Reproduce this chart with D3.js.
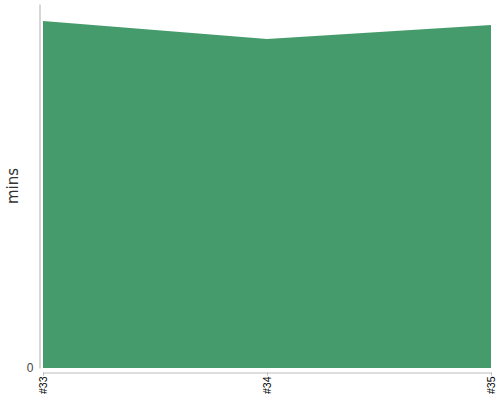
<!DOCTYPE html>
<html>
<head>
<meta charset="utf-8">
<script src="https://cdn.jsdelivr.net/npm/d3@7"></script>
<style>
  body { margin: 0; background: #fff; }
  .axis path, .axis line { stroke: #bbb; }
</style>
</head>
<body>
<script>
// builds and their duration
const builds = ["#33", "#34", "#35"];
const minutes = [95.3, 90.4, 94.2];
const yTicks = [0];

const width = 500, height = 400;
const margin = {top: 4, right: 9, bottom: 32, left: 43};

const svg = d3.select("body").append("svg")
    .attr("width", width)
    .attr("height", height)
    .style("font-family", "'DejaVu Sans', sans-serif");

const x = d3.scalePoint()
    .domain(builds)
    .range([margin.left, width - margin.right]);

const y = d3.scaleLinear()
    .domain([0, 100])
    .range([height - margin.bottom, margin.top]);

const area = d3.area()
    .x((d, i) => x(builds[i]))
    .y0(y(0))
    .y1(d => y(d));

svg.append("path")
    .datum(minutes)
    .attr("fill", "#459b6c")
    .attr("d", area);

// y axis, sits a little left of the plot
const yAxis = svg.append("g")
    .attr("class", "axis")
    .attr("transform", "translate(" + (margin.left - 3.5) + ",0)")
    .call(d3.axisLeft(y).tickValues(yTicks).tickSize(0).tickPadding(6));
yAxis.select(".domain").attr("stroke", "#bbb").attr("stroke-width", 1.2);
yAxis.selectAll("text").attr("font-size", 12).attr("fill", "#444");

// x axis, a little below the plot
const xAxis = svg.append("g")
    .attr("class", "axis")
    .attr("transform", "translate(0," + (height - margin.bottom + 4.5) + ")")
    .call(d3.axisBottom(x).tickSize(3).tickSizeOuter(0));
xAxis.select(".domain").attr("stroke", "#bbb").attr("stroke-width", 1.2);
xAxis.selectAll("text")
    .attr("font-size", 10.5)
    .attr("fill", "#000")
    .attr("text-anchor", "end")
    .attr("transform", "rotate(-90)")
    .attr("x", -4)
    .attr("y", 0)
    .attr("dy", "0.35em");

svg.append("text")
    .attr("transform", "translate(18," + ((margin.top + height - margin.bottom) / 2) + ") rotate(-90)")
    .attr("text-anchor", "middle")
    .attr("font-size", 15)
    .attr("fill", "#333")
    .text("mins");
</script>
</body>
</html>
